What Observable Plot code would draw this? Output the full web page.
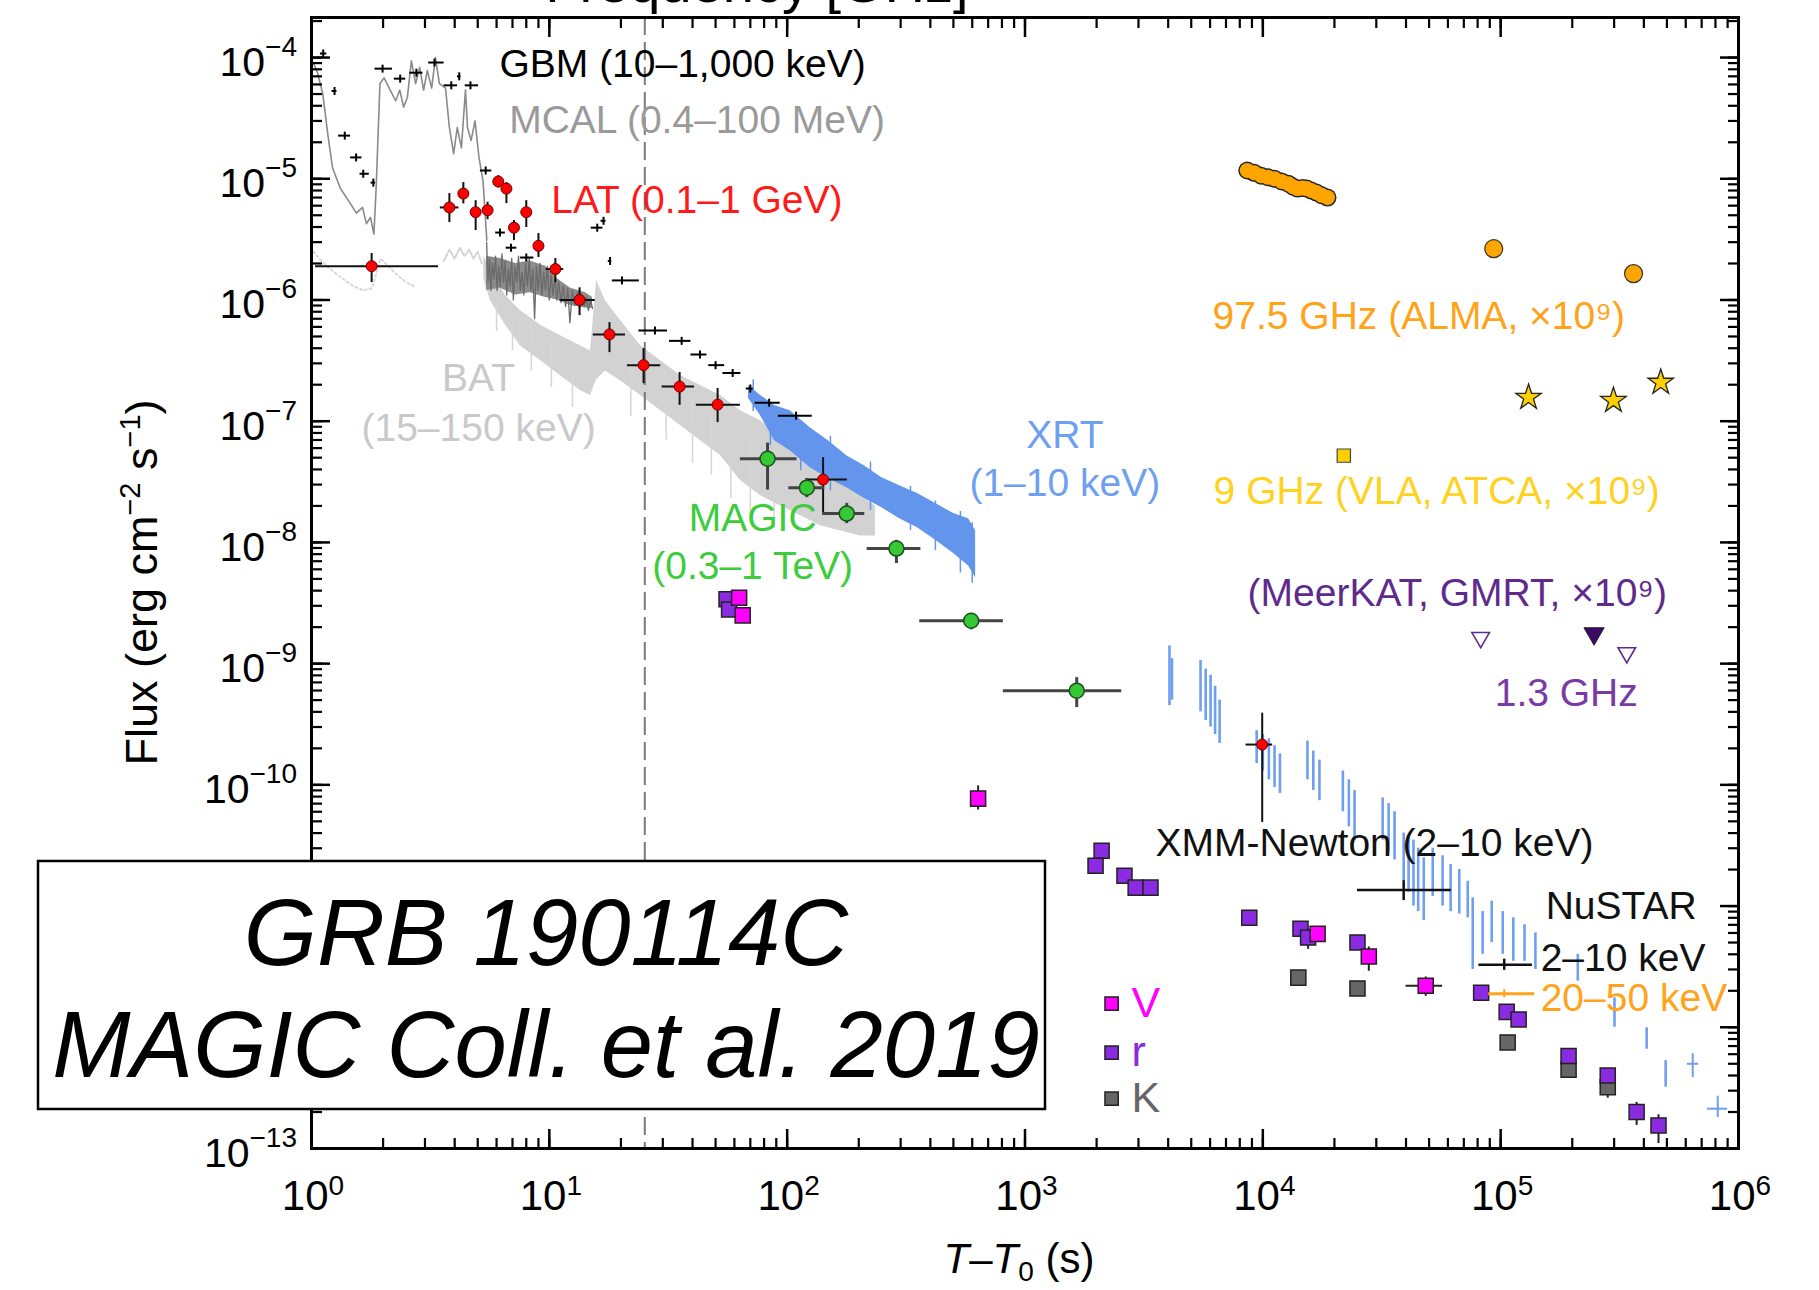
<!DOCTYPE html>
<html>
<head>
<meta charset="utf-8">
<script src="https://cdn.jsdelivr.net/npm/d3@7"></script>
<script src="https://cdn.jsdelivr.net/npm/@observablehq/plot@0.6"></script>
<style>
  html, body { margin: 0; padding: 0; background: #fff; overflow: hidden; }
  #chart { width: 1819px; height: 1290px; overflow: hidden; }
  #chart svg { display: block; }
</style>
</head>
<body>
<div id="chart"></div>
<script>
// ---------------- DATA (time in s, flux in erg cm^-2 s^-1) ----------------
// GBM points: [t, F, tLo, tHi]
const gbm = [
  [1.12, 1.08e-4, 1.09, 1.16], [1.25, 5.3e-5, 1.22, 1.28], [1.38, 2.27e-5, 1.30, 1.46],
  [1.54, 1.5e-5, 1.46, 1.63], [1.65, 1.1e-5, 1.60, 1.75], [1.82, 9.3e-6, 1.78, 1.86],
  [1.99, 8.1e-5, 1.85, 2.19], [2.36, 6.7e-5, 2.23, 2.49], [2.76, 7.5e-5, 2.59, 2.94],
  [3.29, 9.1e-5, 3.11, 3.61], [3.87, 5.9e-5, 3.61, 4.11], [4.18, 7.0e-5, 4.11, 4.25],
  [4.66, 5.9e-5, 4.43, 5.04], [5.4, 1.17e-5, 5.13, 5.73], [6.2, 3.6e-6, 5.95, 6.53],
  [6.9, 2.7e-6, 6.58, 7.3], [8.0, 2.24e-6, 7.57, 8.61], [15.9, 3.95e-6, 15.0, 16.8],
  [16.9, 4.5e-6, 16.5, 17.3], [18.0, 2.1e-6, 17.7, 18.3], [20.2, 1.45e-6, 18.4, 23.9],
  [27.8, 5.6e-7, 23.8, 31.4], [36, 4.6e-7, 32, 39.4], [43, 3.55e-7, 39.4, 46],
  [50, 2.9e-7, 46.8, 54.6], [59, 2.5e-7, 53.7, 63.9], [70, 1.86e-7, 67.3, 72],
  [84, 1.42e-7, 73.3, 93.5], [109, 1.11e-7, 91.8, 127.5]
];
// LAT points: [t, F, tLo, tHi, FLo, FHi]
const lat = [
  [1.79, 1.9e-6, 1.04, 3.42, 1.39e-6, 2.42e-6], [3.8, 5.8e-6, 3.48, 4.17, 4.35e-6, 7.55e-6],
  [4.35, 7.55e-6, 4.2, 4.5, 6.2e-6, 9.3e-6], [4.9, 5.3e-6, 4.75, 5.05, 3.74e-6, 6.6e-6],
  [5.5, 5.5e-6, 5.35, 5.65, 4.6e-6, 6.4e-6], [6.1, 9.5e-6, 5.95, 6.25, 8.4e-6, 1.06e-5],
  [6.6, 8.3e-6, 6.45, 6.75, 6.24e-6, 9.3e-6], [7.1, 3.95e-6, 6.95, 7.25, 3.09e-6, 4.52e-6],
  [8.0, 5.3e-6, 7.8, 8.2, 3.96e-6, 6.6e-6], [9.0, 2.8e-6, 8.8, 9.2, 2.24e-6, 3.53e-6],
  [10.6, 1.8e-6, 9.7, 11.5, 1.39e-6, 2.2e-6], [13.4, 1.0e-6, 11.1, 15.6, 7.43e-7, 1.26e-6],
  [17.9, 5.2e-7, 15.3, 20.9, 3.68e-7, 6.5e-7], [24.9, 2.9e-7, 21.3, 29.4, 2.04e-7, 3.97e-7],
  [35.3, 1.93e-7, 29.8, 40.8, 1.35e-7, 2.52e-7], [51, 1.37e-7, 41.5, 63.6, 9.73e-8, 1.86e-7],
  [141.6, 3.3e-8, 120, 179, 1.75e-8, 5.0e-8], [9940, 2.15e-10, 8500, 11000, 4.9e-11, 3.9e-10]
];
// MAGIC points: [t, F, tLo, tHi, FLo, FHi]
const magic = [
  [82.7, 4.9e-8, 63.6, 110, 2.7e-8, 6.6e-8], [121, 2.83e-8, 101.6, 144, 2.34e-8, 3.37e-8],
  [178, 1.73e-8, 141, 212, 1.43e-8, 2.1e-8], [288, 8.9e-9, 217, 365, 6.7e-9, 1.04e-8],
  [594, 2.26e-9, 361, 811, 1.9e-9, 2.6e-9], [1650, 5.98e-10, 811, 2550, 4.34e-10, 7.66e-10]
];
// MCAL light curve: [t, F]
const mcalLine = [
  [1.02, 9.0e-5], [1.06, 7.5e-5], [1.116, 5.0e-5], [1.17, 2.36e-5], [1.225, 1.24e-5], [1.32, 8.4e-6],
  [1.43, 6.6e-6], [1.545, 5.2e-6], [1.64, 5.8e-6], [1.70, 4.26e-6], [1.77, 4.8e-6], [1.83, 3.5e-6],
  [1.87, 8.4e-6], [1.94, 6.1e-5], [2.02, 6.8e-5], [2.14, 5.4e-5], [2.26, 4.4e-5], [2.35, 5.4e-5],
  [2.44, 3.9e-5], [2.53, 4.7e-5], [2.63, 9.4e-5], [2.74, 6.1e-5], [2.85, 8.3e-5], [2.96, 5.4e-5],
  [3.07, 7.8e-5], [3.2, 5.6e-5], [3.32, 1.0e-4], [3.45, 6.1e-5], [3.66, 5.6e-5], [3.8, 2.64e-5],
  [3.96, 1.61e-5], [4.1, 2.64e-5], [4.27, 1.8e-5], [4.44, 5.4e-5], [4.53, 2.64e-5], [4.69, 2.07e-5],
  [4.87, 3.0e-5], [5.06, 1.5e-5], [5.26, 9.7e-6], [5.46, 3.1e-6]
];
// MCAL high-resolution part (noisy): [t, F]
const mcalNoisy = [
  [5.45, 3.0e-6], [5.52, 1.4e-6], [5.6, 2.2e-6], [5.68, 1.2e-6], [5.76, 2.0e-6], [5.85, 1.5e-6],
  [5.94, 2.3e-6], [6.03, 1.2e-6], [6.12, 1.9e-6], [6.22, 1.3e-6], [6.32, 2.4e-6], [6.42, 1.4e-6],
  [6.52, 2.1e-6], [6.62, 1.1e-6], [6.73, 1.8e-6], [6.84, 1.3e-6], [6.95, 2.2e-6], [7.06, 1.0e-6],
  [7.18, 1.9e-6], [7.3, 1.4e-6], [7.42, 2.3e-6], [7.55, 1.2e-6], [7.68, 1.7e-6], [7.81, 1.1e-6],
  [7.95, 2.0e-6], [8.09, 1.3e-6], [8.23, 2.2e-6], [8.37, 1.2e-6], [8.52, 1.8e-6], [8.67, 7.0e-7],
  [8.82, 1.9e-6], [8.98, 1.2e-6], [9.14, 2.0e-6], [9.3, 1.1e-6], [9.47, 1.7e-6], [9.64, 1.2e-6],
  [9.81, 1.9e-6], [9.99, 1.0e-6], [10.17, 1.6e-6], [10.36, 1.1e-6], [10.55, 1.5e-6], [10.75, 1.0e-6],
  [10.95, 1.4e-6], [11.2, 9.5e-7], [11.45, 1.3e-6], [11.7, 8.8e-7], [11.95, 1.25e-6], [12.2, 6.5e-7],
  [12.5, 1.2e-6], [12.8, 9.0e-7], [13.1, 1.15e-6], [13.4, 8.5e-7], [13.7, 1.1e-6], [14.0, 8.8e-7],
  [14.3, 1.05e-6], [14.6, 8.2e-7], [14.9, 1.0e-6], [15.2, 8.5e-7]
];
// MCAL envelope: [t, FLo, FHi]
const mcalBand = [
  [5.44, 1.2e-6, 2.3e-6], [6.23, 1.25e-6, 2.2e-6], [7.21, 1.1e-6, 2.0e-6],
  [8.3, 1.15e-6, 2.1e-6], [9.64, 1.05e-6, 1.9e-6], [10.8, 1.0e-6, 1.5e-6],
  [12.3, 9.0e-7, 1.25e-6], [14.2, 8.6e-7, 1.15e-6], [15.2, 8.5e-7, 1.05e-6]
];
// BAT: faint early parts [t, F] and envelope [t, FLo, FHi]
const batFaint = [
  [1.02, 2.5e-6], [1.1, 2.1e-6], [1.2, 1.8e-6], [1.35, 1.5e-6], [1.5, 1.3e-6], [1.65, 1.2e-6],
  [1.8, 1.25e-6], [1.95, 2.2e-6], [2.1, 1.9e-6], [2.3, 1.6e-6], [2.5, 1.4e-6], [2.7, 1.3e-6]
];
const batFaint2 = [
  [3.6, 2.1e-6], [3.8, 2.6e-6], [4.0, 2.2e-6], [4.2, 2.7e-6], [4.4, 2.3e-6], [4.6, 2.6e-6],
  [4.8, 2.2e-6], [5.0, 2.5e-6], [5.2, 2.0e-6]
];
const batBand = [
  [5.3, 1.5e-6, 2.3e-6], [5.65, 9.9e-7, 1.75e-6],
  [6.55, 6.2e-7, 1.09e-6], [7.55, 4.2e-7, 8.2e-7], [9.2, 3.15e-7, 6.2e-7], [11.1, 2.38e-7, 5.1e-7],
  [13.5, 1.79e-7, 4.2e-7], [14.9, 1.63e-7, 3.8e-7], [15.8, 2.2e-7, 1.45e-6], [17.2, 2.6e-7, 9.9e-7],
  [19.9, 2.16e-7, 6.8e-7], [24.2, 1.63e-7, 4.2e-7], [29.4, 1.22e-7, 3.15e-7], [35.6, 9.2e-8, 2.38e-7],
  [43.2, 6.9e-8, 1.97e-7], [52.5, 5.2e-8, 1.63e-7], [63.6, 3.24e-8, 1.22e-7], [77.3, 2.43e-8, 1.01e-7],
  [93.9, 2.0e-8, 7.6e-8], [114, 1.66e-8, 5.7e-8], [138, 1.37e-8, 4.3e-8], [167, 1.25e-8, 3.24e-8],
  [203, 1.13e-8, 2.43e-8], [235, 1.13e-8, 2.0e-8]
];
// BAT downward noise spikes: [t, FLo, FHi]
const batSpikes = [
  [6.0, 5.5e-7, 1.0e-6], [7.0, 3.8e-7, 7e-7], [8.4, 2.6e-7, 6e-7], [10.2, 1.9e-7, 4.5e-7],
  [12.5, 1.3e-7, 3.5e-7], [22, 1.1e-7, 3e-7], [31, 7e-8, 2e-7], [40, 4.5e-8, 1.5e-7],
  [48, 3.6e-8, 1.2e-7], [58, 2.3e-8, 9e-8], [70, 1.8e-8, 7e-8], [88, 1.5e-8, 5e-8]
];
// XRT: early envelope [t, FLo, FHi], spikes, later orbit strips [t, FLo, FHi], late points
const xrtBand = [
  [68.8, 1.54e-7, 1.97e-7], [77.3, 1.11e-7, 1.63e-7], [88.5, 6.9e-8, 1.35e-7], [103, 5.7e-8, 1.22e-7],
  [125, 4.14e-8, 8.85e-8], [149, 3.36e-8, 6.9e-8], [178, 2.83e-8, 5.2e-8], [211, 2.3e-8, 4.3e-8],
  [249, 1.94e-8, 3.43e-8], [297, 1.57e-8, 2.94e-8], [353, 1.32e-8, 2.53e-8], [421, 1.04e-8, 2.09e-8],
  [501, 8.1e-9, 1.73e-8], [579, 6.4e-9, 1.57e-8], [620, 5.1e-9, 1.25e-8]
];
const xrtSpikes = [
  [72, 1.2e-7, 2.2e-7], [85, 6.3e-8, 1.4e-7], [114, 3.9e-8, 1.0e-7], [152, 2.67e-8, 7.5e-8],
  [224, 1.83e-8, 4.6e-8], [330, 1.25e-8, 2.9e-8], [420, 8.55e-9, 2.2e-8], [535, 5.6e-9, 1.8e-8],
  [600, 4.6e-9, 1.45e-8]
];
const xrtStrips = [
  [4050, 4.5e-10, 1.4e-9], [4150, 5e-10, 1.1e-9],
  [5470, 4e-10, 1.06e-9], [5750, 3.4e-10, 9e-10], [6030, 3e-10, 8e-10], [6300, 2.6e-10, 6.5e-10], [6580, 2.2e-10, 5e-10],
  [9420, 1.5e-10, 2.8e-10], [1.0e4, 1.3e-10, 2.6e-10], [1.06e4, 1.1e-10, 2.4e-10], [1.12e4, 9.5e-11, 2.1e-10], [1.18e4, 8.5e-11, 1.8e-10],
  [1.54e4, 1.1e-10, 2.3e-10], [1.63e4, 9e-11, 1.9e-10], [1.73e4, 7.4e-11, 1.6e-10],
  [2.17e4, 6e-11, 1.3e-10], [2.3e4, 4.5e-11, 1.1e-10], [2.43e4, 3.5e-11, 9e-11],
  [3.19e4, 3.5e-11, 7.8e-11], [3.38e4, 2.8e-11, 7e-11], [3.58e4, 2.4e-11, 6e-11],
  [3.91e4, 1.6e-11, 4e-11], [4.1e4, 1.3e-11, 3.8e-11], [4.3e4, 1e-11, 3.5e-11], [4.5e4, 9e-12, 3e-11], [4.75e4, 7.6e-12, 2.5e-11],
  [5.18e4, 1.2e-11, 3e-11], [5.7e4, 1e-11, 2.6e-11], [6.16e4, 9e-12, 2.2e-11], [6.7e4, 8.6e-12, 2e-11], [7.27e4, 8e-12, 1.6e-11],
  [7.63e4, 3e-12, 1.17e-11], [8.4e4, 4e-12, 9e-12],
  [9.17e4, 5e-12, 1.1e-11], [1.02e5, 4e-12, 9e-12], [1.13e5, 3.5e-12, 8e-12], [1.26e5, 3.5e-12, 7e-12], [1.4e5, 3e-12, 6e-12],
  [2.11e5, 2.4e-12, 4e-12], [3.01e5, 1e-12, 1.75e-12], [4.11e5, 6.6e-13, 9.9e-13], [4.94e5, 3.2e-13, 5.3e-13]
];
const xrtLatePts = [
  [6.42e5, 5.0e-13, 6.1e5, 6.8e5, 3.84e-13, 6.05e-13],
  [8.18e5, 2.13e-13, 7.4e5, 9.0e5, 1.8e-13, 2.7e-13]
];
// Optical: [t, F]
const opticalV = [[62.8, 3.5e-9], [65, 2.5e-9], [635, 7.7e-11], [1.7e4, 5.9e-12], [2.79e4, 3.83e-12], [4.84e4, 2.2e-12]];
const opticalR = [
  [55.6, 3.4e-9], [57, 2.8e-9], [2100, 2.86e-11], [1980, 2.15e-11], [2620, 1.78e-11], [2920, 1.42e-11],
  [3370, 1.42e-11], [8770, 8.0e-12], [1.44e4, 6.5e-12], [1.55e4, 5.5e-12], [2.5e4, 5.0e-12],
  [8.28e4, 1.93e-12], [1.06e5, 1.34e-12], [1.19e5, 1.16e-12], [1.93e5, 5.8e-13], [2.82e5, 4.0e-13],
  [3.73e5, 2.0e-13], [4.61e5, 1.55e-13]
];
const opticalK = [[1.41e4, 2.57e-12], [2.5e4, 2.09e-12], [1.07e5, 7.5e-13], [1.93e5, 4.47e-13], [2.82e5, 3.2e-13]];
const opticalErr = [
  [635, 6.2e-11, 9.8e-11], [1.55e4, 4.4e-12, 6.5e-12], [2.79e4, 2.9e-12, 4.6e-12], [4.84e4, 1.8e-12, 2.6e-12],
  [1.93e5, 3.8e-13, 5.5e-13], [2.82e5, 2.6e-13, 4.0e-13], [3.73e5, 1.55e-13, 2.4e-13], [4.61e5, 1.1e-13, 1.9e-13]
];
const opticalHErr = [[2.2e-12, 4.0e4, 5.7e4]];
// Radio (scaled x1e9): [t, F]
const almaChain = [
  [8600, 1.17e-5], [9200, 1.12e-5], [9840, 1.06e-5], [1.05e4, 1.03e-5], [1.12e4, 1.0e-5], [1.2e4, 9.5e-6],
  [1.28e4, 9.1e-6], [1.34e4, 8.6e-6], [1.4e4, 8.3e-6], [1.47e4, 8.4e-6], [1.53e4, 8.3e-6], [1.6e4, 8.0e-6],
  [1.68e4, 7.7e-6], [1.77e4, 7.3e-6], [1.87e4, 7.0e-6]
];
const almaPoints = [[9.35e4, 2.65e-6], [3.62e5, 1.65e-6]];
const vla9Square = [[2.19e4, 5.2e-8]];
const vla9Stars = [[1.31e5, 1.57e-7], [2.98e5, 1.48e-7], [4.71e5, 2.09e-7]];
const ghz13Open = [[8.24e4, 1.64e-9], [3.39e5, 1.23e-9]];
const ghz13Filled = [[2.47e5, 1.77e-9]];
// X-ray pointings: [t, F, tLo, tHi, FLo, FHi]
const xmm = [[3.91e4, 1.36e-11, 2.5e4, 6.2e4, 1.11e-11, 1.62e-11]];
const nustarSoft = [[1.035e5, 3.28e-12, 8.1e4, 1.36e5, 2.95e-12, 3.65e-12]];
const nustarHard = [[1.035e5, 1.89e-12, 8.9e4, 1.39e5, 1.75e-12, 2.05e-12]];
const promptEnd = [25.2];

// Annotations: [key, text, t, F]
const labelsStart = [
  ["GBM", "GBM (10–1,000 keV)", 6.17, 6.97e-5],
  ["MCAL", "MCAL (0.4–100 MeV)", 6.78, 2.40e-5],
  ["LAT", "LAT (0.1–1 GeV)", 10.19, 5.26e-6],
  ["ALMA", "97.5 GHz (ALMA, ×10⁹)", 6150, 5.81e-7],
  ["VLA", "9 GHz (VLA, ATCA, ×10⁹)", 6210, 2.09e-8],
  ["MeerKAT", "(MeerKAT, GMRT, ×10⁹)", 8630, 3.01e-9],
  ["GHz13", "1.3 GHz", 9.44e4, 4.5e-10],
  ["XMM", "XMM-Newton (2–10 keV)", 3540, 2.61e-11],
  ["XMM", "NuSTAR", 1.546e5, 7.87e-12],
  ["XMM", "2–10 keV", 1.473e5, 2.93e-12],
  ["NuHard", "20–50 keV", 1.473e5, 1.37e-12]
];
const labelsMiddle = [
  ["BAT", "BAT", 5.04, 1.79e-7],
  ["BAT", "(15–150 keV)", 5.04, 6.92e-8],
  ["XRT", "XRT", 1470, 6.05e-8],
  ["XRT", "(1–10 keV)", 1470, 2.43e-8],
  ["MAGIC", "MAGIC", 71.6, 1.25e-8],
  ["MAGIC", "(0.3–1 TeV)", 71.6, 5.02e-9]
];
// Optical legend: [band, F]
const legendItems = [["V", 1.57e-12], ["r", 6.17e-13], ["K", 2.58e-13]];
const legendSquareT = 2313, legendTextT = 2806;

const xTickValues = [1, 10, 100, 1e3, 1e4, 1e5, 1e6];
const xTickExp = ["0", "1", "2", "3", "4", "5", "6"];
const yTickValues = [1e-13, 1e-12, 1e-11, 1e-10, 1e-9, 1e-8, 1e-7, 1e-6, 1e-5, 1e-4];
// labels of 1e-12 and 1e-11 are hidden behind the title box in the reference
const yLabelValues = [1e-13, 1e-10, 1e-9, 1e-8, 1e-7, 1e-6, 1e-5, 1e-4];
const yLabelExp = ["−13", "−10", "−9", "−8", "−7", "−6", "−5", "−4"];

// ---------------- STYLE ----------------
const FONT = '"Liberation Sans", Arial, Helvetica, sans-serif';
const C = {
  GBM: "#000000", MCAL: "#9a9a9a", LAT: "#ff1a1a", BAT: "#c9c9c9", XRT: "#6f9ff0",
  MAGIC: "#3ccc3c", ALMA: "#ffa31a", VLA: "#ffd21f", MeerKAT: "#5e2a8c", GHz13: "#7a3aa6",
  XMM: "#111111", NuHard: "#ffa31a", V: "#ff00ff", r: "#8a2be2", K: "#666666"
};
const vbar = {draw(ctx, size) { const h = Math.sqrt(size / Math.PI); ctx.moveTo(0, -h); ctx.lineTo(0, h); }};
const X = d => d[0], Y = d => d[1];

const chart = Plot.plot({
  width: 1819, height: 1290,
  marginLeft: 311, marginRight: 81, marginTop: 17, marginBottom: 142,
  style: {fontFamily: FONT, fontSize: "39px", background: "white"},
  x: {type: "log", domain: [1, 1e6]},
  y: {type: "log", domain: [1e-13, 2.14e-4]},
  marks: [
    // BAT
    Plot.line(batFaint, {x: X, y: Y, stroke: "#d8d8d8", strokeWidth: 2, strokeDasharray: "2,3"}),
    Plot.line(batFaint2, {x: X, y: Y, stroke: "#d4d4d4", strokeWidth: 2, strokeDasharray: "3,2"}),
    Plot.areaY(batBand, {x: X, y1: d => d[1], y2: d => d[2], fill: "#d2d2d2"}),
    Plot.ruleX(batSpikes, {x: X, y1: d => d[1], y2: d => d[2], stroke: "#d6d6d6", strokeWidth: 1.5}),
    // MCAL
    Plot.areaY(mcalBand, {x: X, y1: d => d[1], y2: d => d[2], fill: "#8c8c8c"}),
    Plot.line(mcalNoisy, {x: X, y: Y, stroke: "#6a6a6a", strokeWidth: 1.3}),
    Plot.line(mcalLine, {x: X, y: Y, stroke: "#8a8a8a", strokeWidth: 1.6}),
    // XRT
    Plot.areaY(xrtBand, {x: X, y1: d => d[1], y2: d => d[2], fill: "#6495ed"}),
    Plot.ruleX(xrtSpikes, {x: X, y1: d => d[1], y2: d => d[2], stroke: "#6495ed", strokeWidth: 1.5}),
    Plot.ruleX(xrtStrips, {x: X, y1: d => d[1], y2: d => d[2], stroke: "#6f9ff0", strokeWidth: 2.6}),
    Plot.ruleY(xrtLatePts, {y: Y, x1: d => d[2], x2: d => d[3], stroke: "#6f9ff0", strokeWidth: 2}),
    Plot.ruleX(xrtLatePts, {x: X, y1: d => d[4], y2: d => d[5], stroke: "#6f9ff0", strokeWidth: 2}),
    // prompt end
    Plot.ruleX(promptEnd, {stroke: "#7a7a7a", strokeWidth: 2, strokeDasharray: "18,7"}),
    // GBM
    Plot.ruleY(gbm, {y: Y, x1: d => d[2], x2: d => d[3], stroke: "#000", strokeWidth: 2}),
    Plot.dot(gbm, {x: X, y: Y, symbol: vbar, r: 4, stroke: "#000", strokeWidth: 2, fill: "none"}),
    // LAT & MAGIC error bars
    Plot.ruleY(lat, {y: Y, x1: d => d[2], x2: d => d[3], stroke: "#111", strokeWidth: 2}),
    Plot.ruleX(lat, {x: X, y1: d => d[4], y2: d => d[5], stroke: "#111", strokeWidth: 2}),
    Plot.ruleY(magic, {y: Y, x1: d => d[2], x2: d => d[3], stroke: "#444", strokeWidth: 3}),
    Plot.ruleX(magic, {x: X, y1: d => d[4], y2: d => d[5], stroke: "#444", strokeWidth: 3}),
    Plot.dot(magic, {x: X, y: Y, r: 7.5, fill: "#36c936", stroke: "#1f4f1f", strokeWidth: 1.5}),
    Plot.dot(lat, {x: X, y: Y, r: 5.5, fill: "#ff0000", stroke: "#6b0000", strokeWidth: 1}),
    // optical
    Plot.ruleX(opticalErr, {x: X, y1: d => d[1], y2: d => d[2], stroke: "#222", strokeWidth: 2}),
    Plot.ruleY(opticalHErr, {y: d => d[0], x1: d => d[1], x2: d => d[2], stroke: "#222", strokeWidth: 2}),
    Plot.dot(opticalK, {x: X, y: Y, symbol: "square", r: 8.5, fill: C.K, stroke: "#222", strokeWidth: 1.5}),
    Plot.dot(opticalR, {x: X, y: Y, symbol: "square", r: 8.5, fill: C.r, stroke: "#222", strokeWidth: 1.5}),
    Plot.dot(opticalV, {x: X, y: Y, symbol: "square", r: 8.5, fill: C.V, stroke: "#222", strokeWidth: 1.5}),
    // radio
    Plot.dot(almaChain, {x: X, y: Y, r: 9, fill: "#262626"}),
    Plot.dot(almaChain, {x: X, y: Y, r: 7.5, fill: "#ffa500"}),
    Plot.dot(almaPoints, {x: X, y: Y, r: 9, fill: "#ffa500", stroke: "#333", strokeWidth: 1.2}),
    Plot.dot(vla9Square, {x: X, y: Y, symbol: "square", r: 7.5, fill: "#ffd000", stroke: "#444", strokeWidth: 1.2}),
    Plot.dot(vla9Stars, {x: X, y: Y, symbol: "star", r: 8, fill: "#ffd000", stroke: "#222", strokeWidth: 1.3}),
    Plot.dot(ghz13Open, {x: X, y: Y, symbol: "triangle", rotate: 180, r: 6.5, fill: "white", stroke: C.MeerKAT, strokeWidth: 1.6}),
    Plot.dot(ghz13Filled, {x: X, y: Y, symbol: "triangle", rotate: 180, r: 7.5, fill: "#3a0a66", stroke: "#222", strokeWidth: 1}),
    // XMM & NuSTAR
    Plot.ruleY(xmm, {y: Y, x1: d => d[2], x2: d => d[3], stroke: "#111", strokeWidth: 2.5}),
    Plot.ruleX(xmm, {x: X, y1: d => d[4], y2: d => d[5], stroke: "#111", strokeWidth: 2.5}),
    Plot.ruleY(nustarSoft, {y: Y, x1: d => d[2], x2: d => d[3], stroke: "#111", strokeWidth: 2.5}),
    Plot.ruleX(nustarSoft, {x: X, y1: d => d[4], y2: d => d[5], stroke: "#111", strokeWidth: 2.5}),
    Plot.ruleY(nustarHard, {y: Y, x1: d => d[2], x2: d => d[3], stroke: "#ffa31a", strokeWidth: 3}),
    Plot.ruleX(nustarHard, {x: X, y1: d => d[4], y2: d => d[5], stroke: "#ffa31a", strokeWidth: 2}),
    // annotations
    Plot.text(labelsStart, {x: d => d[2], y: d => d[3], text: d => d[1], fill: d => C[d[0]], textAnchor: "start", lineAnchor: "bottom", fontSize: 39}),
    Plot.text(labelsMiddle, {x: d => d[2], y: d => d[3], text: d => d[1], fill: d => C[d[0]], textAnchor: "middle", lineAnchor: "bottom", fontSize: 39}),
    // optical legend
    Plot.dot(legendItems, {x: () => legendSquareT, y: Y, symbol: "square", r: 7.5, fill: d => C[d[0]], stroke: "#222", strokeWidth: 1.5}),
    Plot.text(legendItems, {x: () => legendTextT, y: Y, text: X, fill: d => C[d[0]], textAnchor: "start", lineAnchor: "middle", fontSize: 43}),
    // frame & inward ticks
    Plot.frame({stroke: "#000", strokeWidth: 3}),
    Plot.axisX({anchor: "bottom", ticks: 60, tickSize: -10, tickFormat: () => "", label: null, strokeWidth: 2.2}),
    Plot.axisX(xTickValues, {anchor: "bottom", tickSize: -19, tickFormat: () => "", label: null, strokeWidth: 2.5}),
    Plot.axisX({anchor: "top", ticks: 60, tickSize: -10, tickFormat: () => "", label: null, strokeWidth: 2.2}),
    Plot.axisX(xTickValues, {anchor: "top", tickSize: -19, tickFormat: () => "", label: null, strokeWidth: 2.5}),
    Plot.axisY({anchor: "left", ticks: 100, tickSize: -11, tickFormat: () => "", label: null, strokeWidth: 2.2}),
    Plot.axisY(yTickValues, {anchor: "left", tickSize: -19, tickFormat: () => "", label: null, strokeWidth: 2.5}),
    Plot.axisY({anchor: "right", ticks: 100, tickSize: -11, tickFormat: () => "", label: null, strokeWidth: 2.2}),
    Plot.axisY(yTickValues, {anchor: "right", tickSize: -19, tickFormat: () => "", label: null, strokeWidth: 2.5})
  ]
});
document.getElementById("chart").append(chart);

// ---------------- tick labels, axis titles, box ----------------
const sx = chart.scale("x"), sy = chart.scale("y");
const svg = d3.select(chart);
const left = sx.apply(1), bottom = sy.apply(1e-13);
const g = svg.append("g").attr("font-family", FONT).attr("fill", "#000");

xTickValues.forEach((v, i) => {
  const t = g.append("text").attr("x", sx.apply(v) + 2).attr("y", bottom + 62)
    .attr("text-anchor", "middle").attr("font-size", 42);
  t.append("tspan").text("10");
  t.append("tspan").attr("dy", -15).attr("font-size", 28).text(xTickExp[i]);
});
yLabelValues.forEach((v, i) => {
  const t = g.append("text").attr("x", left - 14).attr("y", sy.apply(v) + 19)
    .attr("text-anchor", "end").attr("font-size", 41);
  t.append("tspan").text("10");
  t.append("tspan").attr("dy", -20).attr("font-size", 28).text(yLabelExp[i]);
});

// y title
const yt = g.append("text").attr("transform", `translate(157,${(sy.apply(1e-13) + sy.apply(2.14e-4)) / 2}) rotate(-90)`)
  .attr("text-anchor", "middle").attr("font-size", 45);
yt.append("tspan").text("Flux (erg cm");
yt.append("tspan").attr("dy", -17).attr("font-size", 29).text("−2");
yt.append("tspan").attr("dy", 17).text(" s");
yt.append("tspan").attr("dy", -17).attr("font-size", 29).text("−1");
yt.append("tspan").attr("dy", 17).text(")");

// x title
const xt = g.append("text").attr("x", 1019).attr("y", bottom + 125).attr("text-anchor", "middle").attr("font-size", 42);
xt.append("tspan").attr("font-style", "italic").text("T");
xt.append("tspan").text("–");
xt.append("tspan").attr("font-style", "italic").text("T");
xt.append("tspan").attr("dy", 8).attr("font-size", 28).text("0");
xt.append("tspan").attr("dy", -8).text(" (s)");

// cropped top axis title
g.append("text").attr("x", 757).attr("y", 2).attr("text-anchor", "middle").attr("font-size", 56).text("Frequency [GHz]");

// title box
const box = svg.append("g").attr("font-family", FONT);
box.append("rect").attr("x", 38).attr("y", 861).attr("width", 1007).attr("height", 248)
  .attr("fill", "#fff").attr("stroke", "#000").attr("stroke-width", 2.5);
box.append("text").attr("x", 546).attr("y", 965).attr("text-anchor", "middle")
  .attr("font-size", 94).attr("font-style", "italic").attr("fill", "#000").text("GRB 190114C");
box.append("text").attr("x", 546).attr("y", 1077).attr("text-anchor", "middle")
  .attr("font-size", 94).attr("font-style", "italic").attr("fill", "#000").text("MAGIC Coll. et al. 2019");
</script>
</body>
</html>
